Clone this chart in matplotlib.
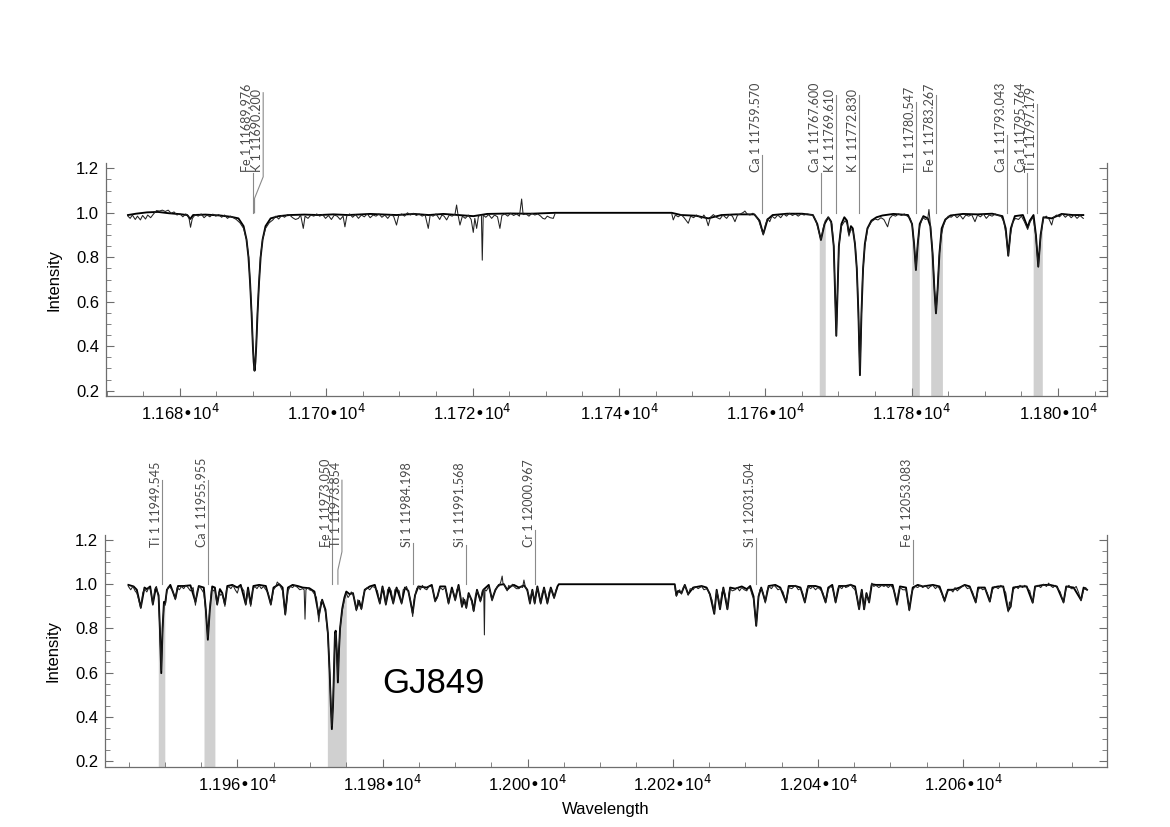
import numpy as np
import matplotlib
matplotlib.use('Agg')
import matplotlib.pyplot as plt
from matplotlib.ticker import MultipleLocator, FuncFormatter

plt.rcParams['font.family'] = ['Liberation Sans', 'DejaVu Sans']
plt.rcParams['font.size'] = 12

# ---- top panel: model (thick) and observed (thin) spectra, (wavelength, intensity)
top_model = [
    (11672.9, 0.990), (11674.0, 0.996), (11675.5, 1.002), (11677.0, 1.004), (11678.5, 0.998),
    (11680.0, 0.994), (11681.0, 0.990), (11681.4, 0.972), (11681.8, 0.990), (11683.5, 0.992),
    (11685.5, 0.988), (11687.0, 0.982), (11688.0, 0.975), (11688.7, 0.940), (11689.1, 0.880),
    (11689.37, 0.800), (11689.6, 0.680), (11689.79, 0.550), (11689.97, 0.400), (11690.08, 0.330),
    (11690.2, 0.290), (11690.32, 0.330), (11690.43, 0.400), (11690.61, 0.550), (11690.8, 0.680),
    (11691.03, 0.800), (11691.3, 0.880), (11691.7, 0.940), (11692.4, 0.975), (11693.5, 0.985),
    (11695.0, 0.990), (11697.0, 0.992), (11699.0, 0.990), (11701.0, 0.993), (11703.0, 0.990),
    (11706.0, 0.995), (11709.6, 0.990), (11712.0, 0.995), (11714.0, 0.990), (11716.0, 0.995),
    (11720.1, 0.985), (11722.0, 0.995), (11725.0, 0.997), (11728.0, 0.996), (11731.3, 1.000),
    (11747.2, 1.000), (11748.5, 0.990), (11750.5, 0.987), (11752.2, 0.975), (11754.0, 0.990),
    (11756.0, 0.993), (11758.5, 0.993), (11759.2, 0.965), (11759.5, 0.930), (11759.72, 0.905),
    (11759.95, 0.930), (11760.3, 0.970), (11761.0, 0.990), (11763.0, 0.996), (11765.0, 0.996),
    (11766.5, 0.990), (11767.1, 0.950), (11767.6, 0.878), (11768.1, 0.950), (11768.6, 0.980),
    (11769.0, 0.960), (11769.35, 0.850), (11769.55, 0.620), (11769.7, 0.447), (11769.85, 0.620),
    (11770.05, 0.850), (11770.4, 0.950), (11770.8, 0.980), (11771.15, 0.965), (11771.43, 0.905),
    (11771.7, 0.940), (11771.95, 0.930), (11772.25, 0.860), (11772.5, 0.750), (11772.72, 0.550),
    (11772.93, 0.270), (11773.14, 0.550), (11773.36, 0.750), (11773.6, 0.860), (11773.95, 0.930),
    (11774.5, 0.965), (11775.2, 0.980), (11776.0, 0.988), (11777.5, 0.995), (11779.5, 0.990),
    (11780.05, 0.950), (11780.33, 0.860), (11780.58, 0.743), (11780.83, 0.860), (11781.1, 0.950),
    (11781.6, 0.985), (11782.2, 0.975), (11782.55, 0.940), (11782.85, 0.820), (11783.1, 0.660),
    (11783.32, 0.548), (11783.55, 0.660), (11783.8, 0.820), (11784.1, 0.930), (11784.6, 0.970),
    (11785.3, 0.988), (11787.0, 0.995), (11789.0, 0.993), (11791.0, 0.996), (11792.4, 0.985),
    (11792.85, 0.930), (11793.2, 0.807), (11793.55, 0.930), (11794.1, 0.985), (11795.2, 0.990),
    (11795.55, 0.960), (11795.85, 0.935), (11796.15, 0.965), (11796.65, 0.990), (11796.98, 0.900),
    (11797.3, 0.758), (11797.62, 0.900), (11798.0, 0.980), (11799.13, 0.975), (11800.5, 0.995),
    (11802.0, 0.990), (11803.45, 0.990),
]

top_obs = [
    (11672.9, 0.985), (11673.2, 0.975), (11673.5, 0.990), (11673.9, 0.970), (11674.2, 0.985),
    (11674.6, 0.968), (11674.9, 0.988), (11675.3, 0.972), (11675.6, 0.990), (11676.0, 0.978),
    (11676.4, 0.995), (11676.8, 1.010), (11677.2, 1.008), (11677.6, 1.012), (11678.0, 1.006),
    (11678.4, 1.012), (11678.8, 0.998), (11679.2, 1.004), (11679.6, 0.990), (11680.0, 0.996),
    (11680.4, 0.982), (11680.8, 0.995), (11681.2, 0.985), (11681.45, 0.935), (11681.7, 0.975),
    (11682.1, 0.992), (11682.5, 0.985), (11682.9, 0.995), (11683.3, 0.978), (11683.7, 0.990),
    (11684.1, 0.982), (11684.5, 0.994), (11684.9, 0.985), (11685.3, 0.992), (11685.7, 0.980),
    (11686.1, 0.990), (11686.5, 0.975), (11686.9, 0.985), (11687.3, 0.978), (11687.7, 0.970),
    (11688.2, 0.955), (11688.7, 0.930), (11689.1, 0.880), (11689.4, 0.800), (11689.6, 0.680),
    (11689.8, 0.550), (11689.97, 0.400), (11690.2, 0.290), (11690.43, 0.400), (11690.6, 0.550),
    (11690.8, 0.680), (11691.0, 0.800), (11691.3, 0.880), (11691.7, 0.930), (11692.2, 0.955),
    (11692.7, 0.968), (11693.1, 0.985), (11693.5, 0.972), (11693.9, 0.988), (11694.3, 0.980),
    (11694.7, 0.992), (11695.0, 0.990), (11695.4, 0.978), (11695.8, 0.970), (11696.2, 0.975),
    (11696.5, 0.990), (11696.86, 0.930), (11697.1, 0.985), (11697.5, 0.975), (11697.9, 0.990),
    (11698.3, 0.985), (11698.7, 0.995), (11699.1, 0.985), (11699.5, 0.992), (11699.9, 0.975),
    (11700.3, 0.988), (11700.7, 0.970), (11701.1, 0.990), (11701.5, 0.985), (11701.9, 0.970),
    (11702.3, 0.985), (11702.55, 0.937), (11702.8, 0.985), (11703.2, 0.995), (11703.6, 0.980),
    (11704.0, 0.992), (11704.4, 0.975), (11704.8, 0.990), (11705.2, 0.982), (11705.6, 0.995),
    (11706.0, 0.978), (11706.4, 0.990), (11706.8, 0.985), (11707.2, 0.995), (11707.6, 0.980),
    (11708.0, 0.990), (11708.4, 0.975), (11708.8, 0.992), (11709.2, 0.985), (11709.6, 0.945),
    (11709.9, 0.988), (11710.3, 0.995), (11710.7, 0.985), (11711.1, 1.000), (11711.5, 0.990),
    (11711.9, 0.998), (11712.3, 0.988), (11712.7, 0.995), (11713.1, 0.985), (11713.5, 0.992),
    (11713.94, 0.930), (11714.2, 0.990), (11714.6, 0.985), (11715.0, 0.995), (11715.5, 0.970),
    (11715.8, 0.990), (11716.1, 0.985), (11716.45, 0.968), (11716.8, 0.990), (11717.2, 0.985),
    (11717.6, 0.995), (11717.81, 1.035), (11718.0, 0.992), (11718.27, 0.945), (11718.6, 0.985),
    (11719.0, 0.975), (11719.4, 0.990), (11719.8, 0.970), (11720.09, 0.912), (11720.3, 0.975),
    (11720.55, 0.930), (11720.8, 0.985), (11721.2, 0.990), (11721.32, 0.787), (11721.45, 0.990),
    (11721.8, 0.980), (11722.2, 0.992), (11722.6, 0.975), (11723.0, 0.990), (11723.4, 0.982),
    (11723.73, 0.930), (11724.0, 0.988), (11724.4, 0.995), (11724.8, 0.985), (11725.2, 0.998),
    (11725.6, 0.988), (11726.0, 0.995), (11726.4, 0.985), (11726.7, 1.062), (11726.9, 0.992),
    (11727.3, 0.995), (11727.7, 0.985), (11728.1, 0.998), (11728.5, 0.990), (11728.9, 0.995),
    (11729.3, 0.985), (11729.6, 0.975), (11729.88, 0.972), (11730.2, 0.985), (11730.6, 0.978),
    (11731.02, 0.975), (11731.25, 0.995),
    (11747.2, 0.998), (11747.42, 0.968), (11747.7, 0.990), (11748.1, 0.982), (11748.5, 0.992),
    (11748.9, 0.978), (11749.2, 0.965), (11749.47, 0.953), (11749.8, 0.985), (11750.2, 0.978),
    (11750.6, 0.990), (11751.0, 0.982), (11751.29, 0.975), (11751.6, 0.990), (11751.9, 0.975),
    (11752.2, 0.942), (11752.5, 0.980), (11752.9, 0.992), (11753.3, 0.980), (11753.8, 0.972),
    (11754.2, 0.990), (11754.71, 0.975), (11755.1, 0.992), (11755.5, 0.985), (11755.85, 0.960),
    (11756.2, 0.990), (11756.6, 0.995), (11757.0, 1.002), (11757.21, 1.008), (11757.5, 0.995),
    (11757.9, 0.990), (11758.3, 0.998), (11758.7, 0.985), (11759.1, 0.965), (11759.4, 0.935),
    (11759.72, 0.900), (11760.0, 0.945), (11760.3, 0.975), (11760.6, 0.960), (11760.9, 0.985),
    (11761.3, 0.975), (11761.7, 0.990), (11762.1, 0.978), (11762.5, 0.995), (11762.9, 0.985),
    (11763.3, 0.998), (11763.7, 0.988), (11764.1, 0.995), (11764.5, 0.985), (11764.9, 0.995),
    (11765.3, 0.990), (11765.7, 0.995), (11766.1, 0.992), (11766.5, 0.990), (11766.9, 0.965),
    (11767.2, 0.930), (11767.6, 0.878), (11767.9, 0.930), (11768.2, 0.965), (11768.6, 0.980),
    (11769.1, 0.950), (11769.35, 0.850), (11769.55, 0.620), (11769.7, 0.447), (11769.85, 0.620),
    (11770.05, 0.850), (11770.4, 0.940), (11770.9, 0.965), (11771.2, 0.950), (11771.43, 0.895),
    (11771.65, 0.925), (11772.0, 0.920), (11772.3, 0.850), (11772.55, 0.720), (11772.75, 0.500),
    (11772.93, 0.270), (11773.1, 0.500), (11773.3, 0.720), (11773.6, 0.850), (11774.0, 0.930),
    (11774.5, 0.960), (11775.0, 0.972), (11775.4, 0.968), (11775.8, 0.978), (11776.2, 0.970),
    (11776.71, 0.937), (11777.0, 0.975), (11777.4, 0.990), (11777.8, 0.985), (11778.2, 0.995),
    (11778.6, 0.988), (11779.0, 0.995), (11779.4, 0.985), (11779.8, 0.975), (11780.1, 0.940),
    (11780.35, 0.850), (11780.58, 0.743), (11780.8, 0.850), (11781.1, 0.940), (11781.5, 0.978),
    (11781.9, 0.970), (11782.2, 0.975), (11782.36, 1.015), (11782.6, 0.930), (11782.9, 0.800),
    (11783.1, 0.660), (11783.32, 0.548), (11783.55, 0.660), (11783.75, 0.800), (11784.05, 0.900),
    (11784.32, 0.940), (11784.6, 0.965), (11785.0, 0.985), (11785.4, 0.980), (11785.8, 0.992),
    (11786.2, 0.978), (11786.6, 0.990), (11787.0, 0.972), (11787.4, 0.990), (11787.8, 0.985),
    (11788.2, 0.992), (11788.65, 0.960), (11789.0, 0.990), (11789.4, 0.982), (11789.8, 0.995),
    (11790.2, 0.975), (11790.6, 0.990), (11791.0, 0.985), (11791.4, 0.995), (11791.8, 0.988),
    (11792.2, 0.985), (11792.6, 0.960), (11792.9, 0.900), (11793.2, 0.807), (11793.5, 0.900),
    (11793.8, 0.960), (11794.2, 0.975), (11794.6, 0.970), (11795.0, 0.985), (11795.4, 0.960),
    (11795.85, 0.925), (11796.2, 0.960), (11796.6, 0.980), (11796.95, 0.900), (11797.3, 0.757),
    (11797.65, 0.900), (11798.0, 0.975), (11798.4, 0.985), (11798.8, 0.970), (11799.13, 0.945),
    (11799.4, 0.980), (11799.8, 0.990), (11800.2, 0.982), (11800.6, 0.995), (11801.0, 0.980),
    (11801.4, 0.992), (11801.8, 0.978), (11802.2, 0.990), (11802.6, 0.975), (11803.0, 0.988),
    (11803.45, 0.975),
]

# ---- bottom panel
bot_model = [
    (11944.98, 0.997), (11945.7, 0.990), (11946.14, 0.975), (11946.69, 0.895), (11947.2, 0.985),
    (11947.52, 0.978), (11947.98, 0.990), (11948.35, 0.910), (11948.77, 0.985), (11949.14, 0.950),
    (11949.32, 0.800), (11949.51, 0.598), (11949.69, 0.800), (11949.88, 0.920), (11950.06, 0.915),
    (11950.29, 0.975), (11950.76, 0.997), (11951.45, 0.935), (11951.82, 0.992), (11952.6, 0.992),
    (11953.53, 0.995), (11954.22, 0.920), (11954.68, 0.992), (11955.37, 0.985), (11955.65, 0.885),
    (11955.93, 0.749), (11956.2, 0.885), (11956.53, 0.990), (11956.9, 0.985), (11957.22, 0.910),
    (11957.59, 0.978), (11957.92, 0.960), (11958.28, 0.910), (11958.61, 0.992), (11959.3, 0.997),
    (11959.99, 0.985), (11960.46, 0.997), (11961.15, 0.910), (11961.47, 0.985), (11961.84, 0.910),
    (11962.21, 0.992), (11963.0, 0.997), (11963.92, 0.992), (11964.61, 0.910), (11964.98, 0.985),
    (11965.77, 1.000), (11966.23, 0.985), (11966.6, 0.865), (11966.97, 0.985), (11967.61, 0.997),
    (11968.31, 0.992), (11969.0, 0.985), (11969.92, 0.982), (11970.62, 0.967), (11971.22, 0.860),
    (11971.68, 0.930), (11972.14, 0.885), (11972.47, 0.780), (11972.72, 0.600), (11972.88, 0.450),
    (11973.02, 0.345), (11973.18, 0.450), (11973.3, 0.600), (11973.45, 0.780), (11973.55, 0.790),
    (11973.7, 0.700), (11973.85, 0.556), (11974.0, 0.700), (11974.15, 0.800), (11974.45, 0.890),
    (11974.75, 0.940), (11975.01, 0.967), (11975.47, 0.955), (11975.93, 0.960), (11976.4, 0.885),
    (11976.77, 0.925), (11977.09, 0.890), (11977.55, 0.975), (11978.24, 0.990), (11978.94, 0.997),
    (11979.63, 0.915), (11980.0, 0.990), (11980.46, 0.910), (11980.92, 0.985), (11981.48, 0.915),
    (11981.94, 0.985), (11982.63, 0.915), (11983.09, 0.985), (11983.56, 0.970), (11984.16, 0.870),
    (11984.48, 0.950), (11984.94, 0.990), (11986.1, 0.985), (11986.79, 0.997), (11987.25, 0.925),
    (11987.57, 0.945), (11987.94, 0.990), (11988.64, 0.990), (11989.1, 0.915), (11989.56, 0.985),
    (11990.02, 0.930), (11990.48, 0.997), (11990.95, 0.900), (11991.27, 0.930), (11991.55, 0.895),
    (11991.87, 0.960), (11992.33, 0.925), (11992.56, 0.880), (11993.02, 0.975), (11993.49, 0.925),
    (11993.9, 0.975), (11994.64, 0.997), (11995.1, 0.930), (11995.56, 0.975), (11996.03, 0.997),
    (11996.72, 1.000), (11997.18, 0.975), (11997.64, 0.990), (11998.1, 0.997), (11998.8, 0.985),
    (11999.5, 0.995), (11999.95, 0.975), (12000.32, 0.915), (12000.65, 0.975), (12000.97, 0.915),
    (12001.34, 0.990), (12001.8, 0.915), (12002.26, 0.985), (12002.72, 0.915), (12003.19, 0.985),
    (12003.65, 0.940), (12004.11, 0.990), (12004.3, 1.000), (12020.27, 1.000),
    (12020.5, 0.950), (12020.74, 0.970), (12021.2, 0.960), (12021.66, 0.997), (12022.12, 0.955),
    (12022.81, 0.985), (12023.97, 0.992), (12024.66, 0.985), (12025.12, 0.955), (12025.72, 0.866),
    (12026.05, 0.975), (12026.51, 0.887), (12026.97, 0.985), (12027.53, 0.887), (12027.9, 0.985),
    (12028.59, 0.980), (12029.51, 0.990), (12030.2, 0.978), (12030.67, 0.992), (12031.13, 0.945),
    (12031.5, 0.812), (12031.82, 0.945), (12032.19, 0.985), (12032.75, 0.922), (12033.21, 0.992),
    (12034.13, 0.997), (12034.82, 0.985), (12035.61, 0.919), (12035.98, 0.992), (12036.9, 0.992),
    (12037.6, 0.985), (12038.2, 0.919), (12038.66, 0.992), (12039.67, 0.992), (12040.37, 0.985),
    (12041.06, 0.919), (12041.43, 0.985), (12041.98, 0.997), (12042.44, 0.919), (12042.91, 0.992),
    (12043.83, 0.992), (12044.52, 0.997), (12045.12, 0.990), (12045.68, 0.888), (12046.05, 0.975),
    (12046.37, 0.887), (12046.69, 0.960), (12047.06, 0.919), (12047.43, 1.000), (12047.99, 0.997),
    (12049.37, 0.997), (12050.3, 0.997), (12050.9, 0.911), (12051.31, 0.990), (12052.14, 0.985),
    (12052.6, 0.884), (12053.07, 0.985), (12053.76, 0.997), (12054.45, 0.990), (12055.84, 0.997),
    (12056.76, 0.990), (12057.46, 0.926), (12057.92, 0.975), (12058.61, 0.975), (12059.53, 0.985),
    (12060.23, 0.997), (12060.92, 0.990), (12061.75, 0.919), (12062.08, 0.985), (12063.0, 0.985),
    (12063.69, 0.922), (12064.06, 0.985), (12064.85, 0.990), (12065.54, 0.990), (12066.23, 0.881),
    (12066.56, 0.899), (12066.92, 0.985), (12067.85, 0.990), (12068.77, 0.990), (12069.6, 0.917),
    (12069.93, 0.990), (12071.08, 0.997), (12072.0, 0.997), (12072.93, 0.990), (12073.85, 0.919),
    (12074.22, 0.990), (12075.24, 0.985), (12076.26, 0.929), (12076.62, 0.985), (12077.09, 0.975),
]

bot_obs = [
    (11944.98, 0.990), (11945.3, 0.975), (11945.6, 0.990), (11945.9, 0.970), (11946.14, 0.960),
    (11946.4, 0.930), (11946.69, 0.890), (11946.95, 0.960), (11947.2, 0.980), (11947.52, 0.965),
    (11947.8, 0.985), (11948.05, 0.975), (11948.35, 0.905), (11948.6, 0.975), (11948.85, 0.990),
    (11949.14, 0.940), (11949.32, 0.790), (11949.51, 0.610), (11949.69, 0.790), (11949.88, 0.910),
    (11950.06, 0.905), (11950.29, 0.970), (11950.5, 0.990), (11950.76, 0.985), (11951.1, 0.970),
    (11951.45, 0.930), (11951.7, 0.985), (11952.0, 0.975), (11952.3, 0.990), (11952.6, 0.980),
    (11952.9, 0.995), (11953.2, 0.985), (11953.53, 0.970), (11953.9, 0.985), (11954.22, 0.905),
    (11954.5, 0.975), (11954.8, 0.990), (11955.1, 0.975), (11955.37, 0.960), (11955.65, 0.880),
    (11955.93, 0.760), (11956.2, 0.890), (11956.45, 0.980), (11956.7, 0.970), (11956.9, 0.975),
    (11957.22, 0.905), (11957.45, 0.965), (11957.7, 0.950), (11957.92, 0.955), (11958.1, 0.930),
    (11958.28, 0.900), (11958.5, 0.975), (11958.8, 0.990), (11959.1, 0.980), (11959.4, 0.995),
    (11959.7, 0.975), (11959.99, 0.960), (11960.25, 0.990), (11960.6, 0.985), (11960.9, 0.970),
    (11961.15, 0.905), (11961.47, 0.975), (11961.84, 0.900), (11962.1, 0.975), (11962.4, 0.990),
    (11962.7, 0.980), (11963.0, 0.995), (11963.3, 0.980), (11963.6, 0.990), (11963.92, 0.975),
    (11964.25, 0.960), (11964.61, 0.905), (11964.98, 0.975), (11965.3, 0.990), (11965.5, 1.010),
    (11965.77, 1.000), (11966.0, 0.985), (11966.23, 0.970), (11966.6, 0.860), (11966.97, 0.970),
    (11967.3, 0.990), (11967.61, 0.985), (11967.9, 0.995), (11968.31, 0.985), (11968.6, 0.975),
    (11969.0, 0.980), (11969.2, 0.975), (11969.32, 0.842), (11969.45, 0.975), (11969.7, 0.985),
    (11969.92, 0.975), (11970.3, 0.970), (11970.62, 0.955), (11970.9, 0.940), (11971.22, 0.830),
    (11971.5, 0.920), (11971.68, 0.925), (11972.14, 0.875), (11972.47, 0.770), (11972.72, 0.600),
    (11972.88, 0.460), (11973.02, 0.360), (11973.18, 0.460), (11973.3, 0.600), (11973.45, 0.770),
    (11973.55, 0.780), (11973.7, 0.690), (11973.85, 0.570), (11974.0, 0.700), (11974.15, 0.800),
    (11974.45, 0.880), (11974.75, 0.930), (11975.01, 0.960), (11975.25, 0.940), (11975.47, 0.950),
    (11975.7, 0.965), (11975.93, 0.955), (11976.15, 0.930), (11976.4, 0.880), (11976.6, 0.930),
    (11976.77, 0.915), (11977.09, 0.885), (11977.3, 0.940), (11977.55, 0.970), (11977.9, 0.985),
    (11978.24, 0.975), (11978.6, 0.990), (11978.94, 0.985), (11979.3, 0.970), (11979.63, 0.910),
    (11980.0, 0.985), (11980.2, 0.970), (11980.46, 0.905), (11980.7, 0.975), (11980.92, 0.985),
    (11981.2, 0.970), (11981.48, 0.910), (11981.7, 0.975), (11981.94, 0.980), (11982.3, 0.970),
    (11982.63, 0.910), (11982.85, 0.975), (11983.09, 0.980), (11983.3, 0.990), (11983.56, 0.965),
    (11983.85, 0.930), (11984.16, 0.854), (11984.35, 0.930), (11984.48, 0.945), (11984.7, 0.980),
    (11984.94, 0.990), (11985.2, 0.975), (11985.5, 0.995), (11985.8, 0.980), (11986.1, 0.975),
    (11986.4, 0.990), (11986.79, 0.990), (11987.0, 0.965), (11987.25, 0.920), (11987.57, 0.940),
    (11987.75, 0.970), (11987.94, 0.985), (11988.3, 0.975), (11988.64, 0.985), (11988.85, 0.960),
    (11989.1, 0.910), (11989.3, 0.950), (11989.56, 0.975), (11989.8, 0.960), (11990.02, 0.925),
    (11990.25, 0.975), (11990.48, 0.990), (11990.7, 0.950), (11990.95, 0.895), (11991.1, 0.940),
    (11991.27, 0.925), (11991.55, 0.890), (11991.7, 0.935), (11991.87, 0.955), (11992.1, 0.940),
    (11992.33, 0.915), (11992.56, 0.876), (11992.8, 0.950), (11993.02, 0.970), (11993.25, 0.955),
    (11993.49, 0.920), (11993.75, 0.970), (11993.95, 0.975), (11994.04, 0.771), (11994.12, 0.975),
    (11994.32, 0.970), (11994.64, 0.990), (11994.85, 0.965), (11995.1, 0.925), (11995.3, 0.955),
    (11995.56, 0.970), (11995.8, 0.990), (11996.03, 0.990), (11996.3, 1.010), (11996.49, 1.037),
    (11996.6, 1.005), (11996.72, 1.000), (11996.95, 0.985), (11997.18, 0.970), (11997.4, 0.995),
    (11997.64, 0.985), (11997.9, 1.000), (11998.1, 0.990), (11998.45, 0.980), (11998.8, 0.980),
    (11999.1, 0.990), (11999.3, 0.985), (11999.49, 1.019), (11999.7, 0.985), (11999.95, 0.970),
    (12000.15, 0.950), (12000.32, 0.910), (12000.5, 0.955), (12000.65, 0.970), (12000.8, 0.950),
    (12000.97, 0.910), (12001.15, 0.960), (12001.34, 0.985), (12001.55, 0.955), (12001.8, 0.910),
    (12002.0, 0.960), (12002.26, 0.980), (12002.5, 0.955), (12002.72, 0.910), (12002.95, 0.965),
    (12003.19, 0.980), (12003.4, 0.960), (12003.65, 0.935), (12003.9, 0.975), (12004.11, 0.980),
    (12020.27, 0.995), (12020.4, 0.960), (12020.5, 0.945), (12020.74, 0.965), (12020.95, 0.975),
    (12021.2, 0.955), (12021.45, 0.985), (12021.66, 0.995), (12021.9, 0.975), (12022.12, 0.950),
    (12022.4, 0.980), (12022.81, 0.975), (12023.1, 0.990), (12023.5, 0.980), (12023.97, 0.990),
    (12024.3, 0.975), (12024.66, 0.980), (12024.9, 0.970), (12025.12, 0.950), (12025.4, 0.930),
    (12025.72, 0.870), (12026.05, 0.970), (12026.3, 0.940), (12026.51, 0.890), (12026.75, 0.960),
    (12026.97, 0.980), (12027.25, 0.950), (12027.53, 0.885), (12027.75, 0.960), (12027.9, 0.980),
    (12028.2, 0.970), (12028.59, 0.975), (12028.9, 0.985), (12029.2, 0.970), (12029.51, 0.985),
    (12029.85, 0.975), (12030.2, 0.970), (12030.45, 0.985), (12030.67, 0.980), (12030.95, 0.950),
    (12031.13, 0.935), (12031.5, 0.812), (12031.82, 0.940), (12032.0, 0.975), (12032.19, 0.980),
    (12032.45, 0.960), (12032.75, 0.915), (12033.0, 0.970), (12033.21, 0.990), (12033.6, 0.980),
    (12033.9, 0.995), (12034.13, 0.990), (12034.5, 0.975), (12034.82, 0.980), (12035.2, 0.965),
    (12035.61, 0.915), (12035.98, 0.985), (12036.4, 0.980), (12036.9, 0.995), (12037.3, 0.975),
    (12037.6, 0.980), (12037.9, 0.960), (12038.2, 0.915), (12038.45, 0.975), (12038.66, 0.990),
    (12039.0, 0.980), (12039.3, 0.990), (12039.67, 0.975), (12040.0, 0.985), (12040.37, 0.975),
    (12040.7, 0.960), (12041.06, 0.915), (12041.43, 0.975), (12041.7, 0.990), (12041.98, 0.985),
    (12042.2, 0.960), (12042.44, 0.915), (12042.7, 0.975), (12042.91, 0.990), (12043.3, 0.980),
    (12043.6, 0.995), (12043.83, 0.985), (12044.2, 0.990), (12044.52, 1.000), (12044.8, 0.985),
    (12045.12, 0.975), (12045.4, 0.940), (12045.68, 0.885), (12045.85, 0.950), (12046.05, 0.970),
    (12046.2, 0.930), (12046.37, 0.885), (12046.55, 0.940), (12046.69, 0.955), (12047.06, 0.915),
    (12047.25, 0.975), (12047.43, 1.005), (12047.7, 0.990), (12047.99, 0.995), (12048.4, 0.985),
    (12048.8, 0.995), (12049.1, 0.990), (12049.37, 0.995), (12049.7, 0.985), (12050.0, 0.995),
    (12050.3, 0.985), (12050.6, 0.960), (12050.9, 0.905), (12051.1, 0.965), (12051.31, 0.985),
    (12051.7, 0.975), (12052.14, 0.975), (12052.35, 0.940), (12052.6, 0.880), (12052.85, 0.950),
    (12053.07, 0.975), (12053.4, 0.990), (12053.76, 0.985), (12054.1, 0.995), (12054.45, 0.985),
    (12054.8, 0.995), (12055.2, 0.980), (12055.5, 0.990), (12055.84, 0.995), (12056.2, 0.980),
    (12056.5, 0.990), (12056.76, 0.980), (12057.1, 0.955), (12057.46, 0.920), (12057.7, 0.960),
    (12057.92, 0.970), (12058.3, 0.975), (12058.61, 0.965), (12058.9, 0.985), (12059.2, 0.970),
    (12059.53, 0.980), (12059.9, 0.990), (12060.23, 0.995), (12060.6, 0.980), (12060.92, 0.985),
    (12061.3, 0.965), (12061.75, 0.915), (12062.08, 0.975), (12062.4, 0.985), (12062.7, 0.975),
    (12063.0, 0.980), (12063.35, 0.960), (12063.69, 0.920), (12064.06, 0.975), (12064.4, 0.990),
    (12064.85, 0.980), (12065.2, 0.995), (12065.54, 0.985), (12065.9, 0.960), (12066.23, 0.875),
    (12066.4, 0.920), (12066.56, 0.895), (12066.75, 0.950), (12066.92, 0.975), (12067.3, 0.990),
    (12067.6, 0.980), (12067.85, 0.995), (12068.2, 0.985), (12068.5, 0.995), (12068.77, 0.985),
    (12069.2, 0.970), (12069.6, 0.915), (12069.93, 0.985), (12070.3, 0.995), (12070.7, 0.985),
    (12071.08, 1.000), (12071.5, 0.990), (12071.8, 1.005), (12072.0, 0.995), (12072.4, 0.985),
    (12072.7, 0.995), (12072.93, 0.985), (12073.4, 0.965), (12073.85, 0.915), (12074.22, 0.985),
    (12074.6, 0.995), (12074.9, 0.980), (12075.24, 0.980), (12075.6, 0.990), (12075.95, 0.960),
    (12076.26, 0.925), (12076.62, 0.975), (12076.9, 0.985), (12077.09, 0.975),
]

# fitted regions (grey bands)
top_bands = [(11767.37, 11768.19), (11780.0, 11781.04), (11782.6, 11784.2), (11796.6, 11797.85)]
bot_bands = [(11949.1, 11950.0), (11955.4, 11956.9), (11972.4, 11975.0)]

# line identifications: label, line wavelength, label position, top of marker line
top_names = ["Fe 1 11689.976", "K 1 11690.200", "Ca 1 11759.570", "Ca 1 11767.600",
             "K 1 11769.610", "K 1 11772.830", "Ti 1 11780.547", "Fe 1 11783.267",
             "Ca 1 11793.043", "Ca 1 11795.764", "Ti 1 11797.179"]
top_waves = [11689.976, 11690.200, 11759.570, 11767.600, 11769.610, 11772.830,
             11780.547, 11783.267, 11793.043, 11795.764, 11797.179]
top_label_x = [11689.976, 11691.38, 11759.570, 11767.600, 11769.610, 11772.830,
               11780.547, 11783.267, 11793.043, 11795.764, 11797.179]
top_line_top = [1.18, 1.54, 1.26, 1.18, 1.53, 1.53, 1.50, 1.53, 1.35, 1.18, 1.49]

bot_names = ["Ti 1 11949.545", "Ca 1 11955.955", "Fe 1 11973.050", "Ti 1 11973.854",
             "Si 1 11984.198", "Si 1 11991.568", "Cr 1 12000.967", "Si 1 12031.504",
             "Fe 1 12053.083"]
bot_waves = [11949.545, 11955.955, 11973.050, 11973.854, 11984.198, 11991.568,
             12000.967, 12031.504, 12053.083]
bot_label_x = [11949.545, 11955.955, 11973.050, 11974.41, 11984.198, 11991.568,
               12000.967, 12031.504, 12053.083]
bot_line_top = [1.47, 1.47, 1.47, 1.47, 1.186, 1.177, 1.245, 1.21, 1.20]


def tick_fmt(v, pos):
    return f"{v / 1e4:.3f}\u202210$^4$"


def with_gaps(arr):
    # break the line where the spectrum has no data
    w, f = np.array(arr).T
    cut = np.where(np.diff(w) > 5)[0] + 1
    return np.insert(w, cut, np.nan), np.insert(f, cut, np.nan)


def draw_panel(ax, model, obs, bands, names, waves, label_x, line_top,
               xlim, ylim, text_y, kink):
    mw, mf = np.array(model).T
    ow, of = with_gaps(obs)

    for lo, hi in bands:
        inside = (mw > lo) & (mw < hi)
        bx = np.concatenate([[lo], mw[inside], [hi]])
        by = np.interp(bx, mw, mf)
        ax.fill_between(bx, ylim[0], by, color='#d0d0d0', lw=0, zorder=1)

    ax.plot(mw, mf, color='black', lw=1.35, zorder=3)
    ax.plot(ow, of, color='#222222', lw=0.75, zorder=4)

    for name, w, lx, top in zip(names, waves, label_x, line_top):
        if abs(lx - w) > 0.01:
            xs = [lx, lx, w, w]
            ys = [top, kink[0], kink[1], 1.0]
        else:
            xs = [w, w]
            ys = [top, 1.0]
        ax.plot(xs, ys, color='#8a8a8a', lw=0.8, clip_on=False, zorder=2)
        ax.text(lx, text_y, name, rotation=90, ha='right', va='bottom',
                fontsize=9, color='#4a4a4a', family=['Lato', 'DejaVu Sans'],
                clip_on=False)

    ax.set_xlim(*xlim)
    ax.set_ylim(*ylim)
    ax.xaxis.set_major_locator(MultipleLocator(20))
    ax.xaxis.set_minor_locator(MultipleLocator(5))
    ax.yaxis.set_major_locator(MultipleLocator(0.2))
    ax.yaxis.set_minor_locator(MultipleLocator(0.05))
    ax.xaxis.set_major_formatter(FuncFormatter(tick_fmt))
    ax.yaxis.set_major_formatter(FuncFormatter(lambda v, p: f"{v:.1f}"))
    ax.spines['top'].set_visible(False)
    for s in ('left', 'right', 'bottom'):
        ax.spines[s].set_color('#6e6e6e')
        ax.spines[s].set_linewidth(0.9)
    ax.tick_params(which='both', direction='in', top=False, right=True,
                   color='#6e6e6e', labelsize=12)
    ax.tick_params(which='major', length=6, pad=5)
    ax.tick_params(which='minor', length=3.5)
    ax.set_ylabel('Intensity', fontsize=12)
    ax.yaxis.set_label_coords(-0.044, 0.5)


fig = plt.figure(figsize=(11.7, 8.27), dpi=100)
ax1 = fig.add_axes([0.0906, 0.5215, 0.8556, 0.281])
ax2 = fig.add_axes([0.0897, 0.0726, 0.8562, 0.2805])

draw_panel(ax1, top_model, top_obs, top_bands, top_names, top_waves, top_label_x,
           top_line_top, (11669.9, 11806.7), (0.1775, 1.2225), 1.183, (1.162, 1.065))
draw_panel(ax2, bot_model, bot_obs, bot_bands, bot_names, bot_waves, bot_label_x,
           bot_line_top, (11941.75, 12079.8), (0.174, 1.2226), 1.17, (1.147, 1.065))

ax2.set_xlabel('Wavelength', fontsize=12)
ax2.xaxis.set_label_coords(0.5, -0.15)
ax2.text(11980.0, 0.51, 'GJ849', fontsize=25, ha='left', va='baseline')

plt.savefig('out.png', dpi=100)
